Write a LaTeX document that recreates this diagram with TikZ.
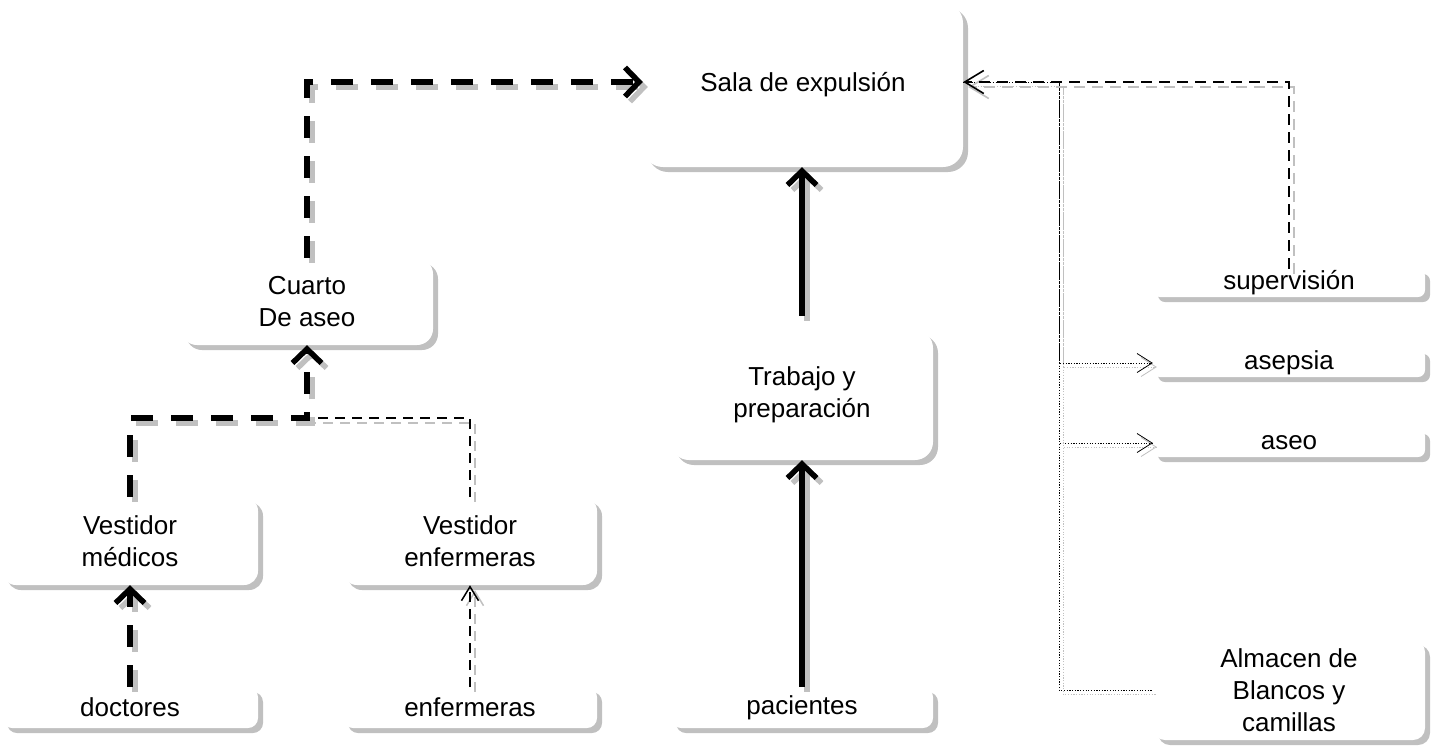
\documentclass[tikz,border=0pt]{standalone}
\usepackage{fontspec}
\setmainfont{Liberation Sans}
\usetikzlibrary{arrows.meta,shadows,calc}
\definecolor{shad}{RGB}{192,192,192}
\tikzset{
  box/.style={fill=white, draw=none, rounded corners=#1, inner sep=0pt, align=center,
    font=\fontsize{26}{32}\selectfont,
    general shadow={fill=shad, shadow xshift=5pt, shadow yshift=-5pt}},
  box/.default=14pt,
  shadowed/.style={preaction={draw=shad, transform canvas={xshift=5pt,yshift=-5pt}, #1}, #1},
  smallshadowed/.style={preaction={draw=shad, transform canvas={xshift=4pt,yshift=-4pt}, #1}, #1},
  thicksolid/.style={shadowed={line width=5.5pt, -{Straight Barb[length=14pt,width=29pt]}}},
  thickdash/.style={shadowed={line width=5.5pt, dash pattern=on 22pt off 18pt,
    -{Straight Barb[length=14pt,width=29pt]}}},
  thindash/.style={shadowed={line width=2.2pt, dash pattern=on 10pt off 7pt,
    -{Straight Barb[length=14pt,width=17pt,line width=1.5pt]}}},
  thindashplain/.style={shadowed={line width=2.2pt, dash pattern=on 10pt off 7pt}},
  meddash/.style={shadowed={line width=2.8pt, dash pattern=on 11pt off 7pt,
    -{Straight Barb[length=19pt,width=23pt,line width=1.6pt]}}},
  dotarrow/.style={smallshadowed={line width=0.8pt, dash pattern=on 1.2pt off 1.5pt,
    -{Straight Barb[length=15pt,width=19pt,line width=0.8pt]}}},
  dotplain/.style={smallshadowed={line width=0.8pt, dash pattern=on 1.2pt off 1.5pt}},
}
\begin{document}
\begin{tikzpicture}[x=1pt,y=-1pt]
\useasboundingbox (0,0) rectangle (1439,748);
% boxes
\node[box=20pt, minimum width=320pt, minimum height=164pt] (sala) at (803,85) {Sala de expulsión};
\node[box=16pt, minimum width=252pt, minimum height=87pt] (cuarto) at (307,301.5) {Cuarto\\De aseo};
\node[box=14pt, minimum width=256pt, minimum height=88pt] (vmed) at (130,541) {Vestidor\\médicos};
\node[box=14pt, minimum width=254pt, minimum height=88pt] (venf) at (470,541) {Vestidor\\enfermeras};
\node[box=10pt, minimum width=256pt, minimum height=41pt] (doc) at (130,707.5) {doctores};
\node[box=10pt, minimum width=254pt, minimum height=41pt] (enf) at (470,707.5) {enfermeras};
\node[box=18pt, minimum width=262pt, minimum height=130pt] (trab) at (802,395) {Trabajo y\\preparación};
\node[box=10pt, minimum width=262pt, minimum height=41pt] (pac) at (802,707.5) {pacientes};
\node[box=7pt, minimum width=272pt, minimum height=28pt] (sup) at (1289,283) {supervisión};
\node[box=7pt, minimum width=272pt, minimum height=28pt] (asep) at (1289,363) {asepsia};
\node[box=7pt, minimum width=272pt, minimum height=28pt] (aseo) at (1289,443) {aseo};
\node[box=12pt, minimum width=272pt, minimum height=100pt] (alm) at (1289,690) {Almacen de\\Blancos y\\camillas};
% helper coordinates
\coordinate (mergeL) at (307,418);
\coordinate (br) at (1059,82);
% connectors
\draw[thickdash] (cuarto.north) |- ([yshift=3pt]sala.west);
\draw[thicksolid, shorten <=14pt] (trab.north) -- (trab.north |- sala.south);
\draw[thicksolid] (pac.north) -- (trab.south);
\draw[thickdash] (doc.north) -- (vmed.south);
\draw[thindash] (enf.north) -- (venf.south);
\draw[thindashplain] (venf.north) |- (mergeL);
\draw[thickdash] (vmed.north) |- (mergeL) -- (cuarto.south);
\draw[dotarrow] ([yshift=3pt]sala.east) -- (br) |- (asep.west);
\draw[dotarrow] (br) |- (aseo.west);
\draw[dotplain] (br) |- (alm.west);
\draw[meddash] (sup.north) |- ([yshift=3pt]sala.east);
\end{tikzpicture}
\end{document}
